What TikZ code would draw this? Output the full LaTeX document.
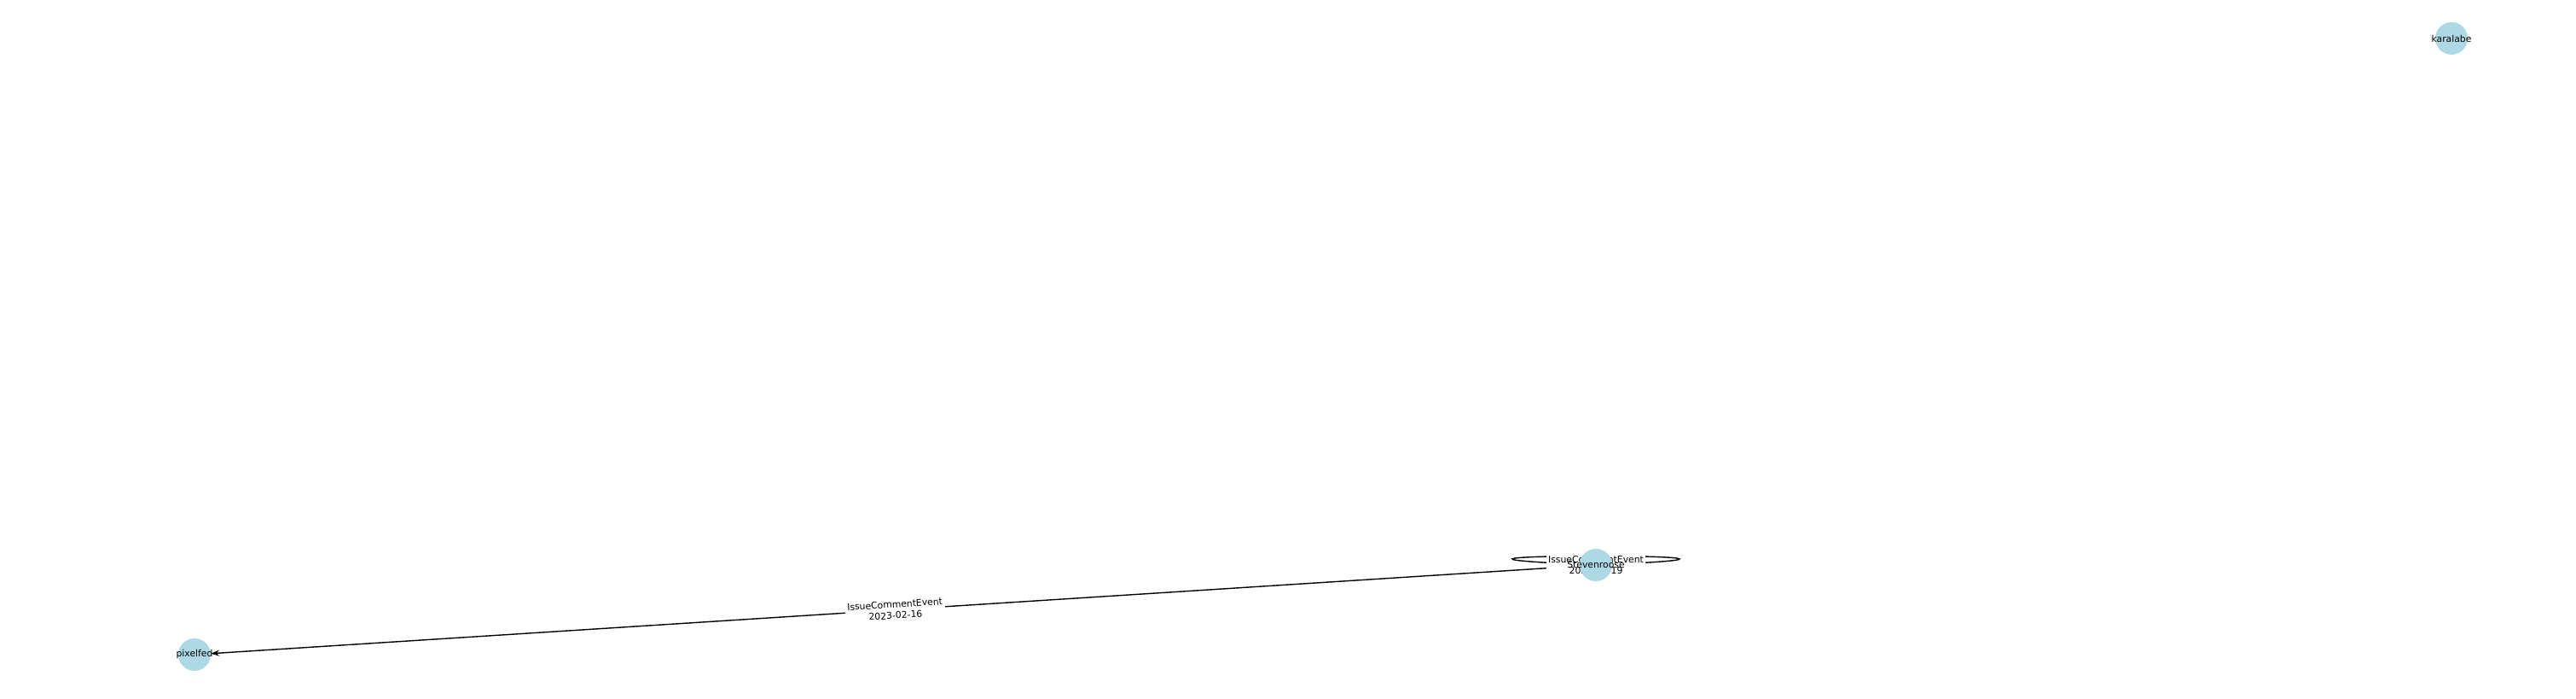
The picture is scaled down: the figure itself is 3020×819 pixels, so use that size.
\documentclass[tikz,border=0pt]{standalone}
\usepackage{fontspec}
\setmainfont{DejaVu Sans}
\usetikzlibrary{arrows.meta,backgrounds}
\definecolor{nodeblue}{HTML}{ADD8E6}
\tikzset{
  user/.style={circle, fill=nodeblue, minimum size=38pt, inner sep=0pt, font=\fontsize{10.8}{13}\selectfont},
  evlabel/.style={fill=white, inner sep=2.5pt, align=center, font=\fontsize{10.8}{13}\selectfont},
}
\begin{document}
\begin{tikzpicture}[x=1pt, y=-1pt, >={Stealth[length=10pt, width=7pt]}]
    \useasboundingbox (0,0) rectangle (3020,819);

    % Users
    \node[user] (stevenroose) at (1871,662) {\makebox[0pt]{Stevenroose}};
    \node[user] (pixelfed) at (228,767) {\makebox[0pt]{pixelfed}};
    \node[user] (karalabe) at (2874,45) {\makebox[0pt]{karalabe}};

    % Events, kept under the users
    \begin{pgfonlayer}{background}
        \draw[->, line width=1.4pt] (stevenroose) -- (pixelfed) node[midway, sloped, evlabel] {IssueCommentEvent\\2023-02-16};
        \draw[line width=1.4pt] (stevenroose.center) .. controls +(-340,-14) and +(340,-14) .. (stevenroose.center);
        \node[evlabel] (selflabel) at (stevenroose.center) {IssueCommentEvent\\2023-02-19};
    \end{pgfonlayer}
\end{tikzpicture}
\end{document}
